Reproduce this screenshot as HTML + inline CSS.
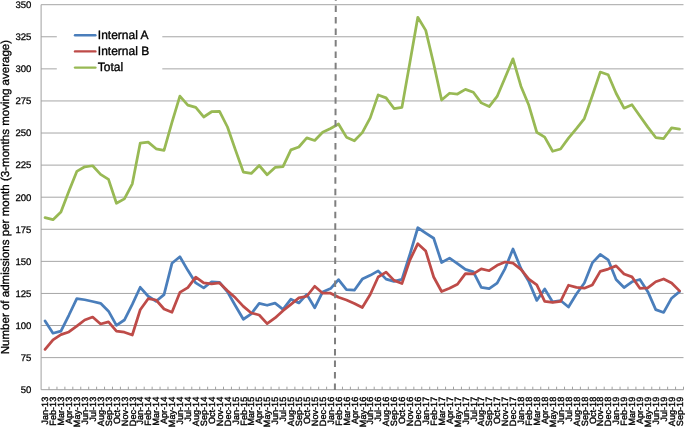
<!DOCTYPE html>
<html><head><meta charset="utf-8"><style>
html,body{margin:0;padding:0;background:#fff;}
svg{display:block;will-change:transform;}
text{font-family:"Liberation Sans",sans-serif;text-rendering:geometricPrecision;fill:#000;stroke:#000;stroke-width:0.25px;}
.lg{font-size:12.0px;stroke-width:0.35px;}
.yl{font-size:9.6px;}
.xl{font-size:9.1px;stroke-width:0.35px;}
.yt{font-size:11.55px;stroke-width:0.3px;}
</style></head><body>
<svg width="685" height="428" viewBox="0 0 685 428">
<rect width="685" height="428" fill="#fff"/>
<line x1="41.10" y1="357.62" x2="683.50" y2="357.62" stroke="#a6a6a6" stroke-width="1.0"/>
<line x1="41.10" y1="325.53" x2="683.50" y2="325.53" stroke="#a6a6a6" stroke-width="1.0"/>
<line x1="41.10" y1="293.45" x2="683.50" y2="293.45" stroke="#a6a6a6" stroke-width="1.0"/>
<line x1="41.10" y1="261.37" x2="683.50" y2="261.37" stroke="#a6a6a6" stroke-width="1.0"/>
<line x1="41.10" y1="229.28" x2="683.50" y2="229.28" stroke="#a6a6a6" stroke-width="1.0"/>
<line x1="41.10" y1="197.20" x2="683.50" y2="197.20" stroke="#a6a6a6" stroke-width="1.0"/>
<line x1="41.10" y1="165.12" x2="683.50" y2="165.12" stroke="#a6a6a6" stroke-width="1.0"/>
<line x1="41.10" y1="133.03" x2="683.50" y2="133.03" stroke="#a6a6a6" stroke-width="1.0"/>
<line x1="41.10" y1="100.95" x2="683.50" y2="100.95" stroke="#a6a6a6" stroke-width="1.0"/>
<line x1="41.10" y1="68.87" x2="683.50" y2="68.87" stroke="#a6a6a6" stroke-width="1.0"/>
<line x1="41.10" y1="36.78" x2="683.50" y2="36.78" stroke="#a6a6a6" stroke-width="1.0"/>
<line x1="41.10" y1="4.70" x2="683.50" y2="4.70" stroke="#a6a6a6" stroke-width="1.0"/>
<line x1="41.10" y1="4.70" x2="41.10" y2="389.70" stroke="#a0a0a0" stroke-width="1.0"/>
<line x1="41.10" y1="389.70" x2="683.50" y2="389.70" stroke="#a0a0a0" stroke-width="1.0"/>
<line x1="49.03" y1="389.70" x2="49.03" y2="386.70" stroke="#a0a0a0" stroke-width="1.0"/>
<line x1="56.96" y1="389.70" x2="56.96" y2="386.70" stroke="#a0a0a0" stroke-width="1.0"/>
<line x1="64.89" y1="389.70" x2="64.89" y2="386.70" stroke="#a0a0a0" stroke-width="1.0"/>
<line x1="72.82" y1="389.70" x2="72.82" y2="386.70" stroke="#a0a0a0" stroke-width="1.0"/>
<line x1="80.75" y1="389.70" x2="80.75" y2="386.70" stroke="#a0a0a0" stroke-width="1.0"/>
<line x1="88.69" y1="389.70" x2="88.69" y2="386.70" stroke="#a0a0a0" stroke-width="1.0"/>
<line x1="96.62" y1="389.70" x2="96.62" y2="386.70" stroke="#a0a0a0" stroke-width="1.0"/>
<line x1="104.55" y1="389.70" x2="104.55" y2="386.70" stroke="#a0a0a0" stroke-width="1.0"/>
<line x1="112.48" y1="389.70" x2="112.48" y2="386.70" stroke="#a0a0a0" stroke-width="1.0"/>
<line x1="120.41" y1="389.70" x2="120.41" y2="386.70" stroke="#a0a0a0" stroke-width="1.0"/>
<line x1="128.34" y1="389.70" x2="128.34" y2="386.70" stroke="#a0a0a0" stroke-width="1.0"/>
<line x1="136.27" y1="389.70" x2="136.27" y2="386.70" stroke="#a0a0a0" stroke-width="1.0"/>
<line x1="144.20" y1="389.70" x2="144.20" y2="386.70" stroke="#a0a0a0" stroke-width="1.0"/>
<line x1="152.13" y1="389.70" x2="152.13" y2="386.70" stroke="#a0a0a0" stroke-width="1.0"/>
<line x1="160.06" y1="389.70" x2="160.06" y2="386.70" stroke="#a0a0a0" stroke-width="1.0"/>
<line x1="167.99" y1="389.70" x2="167.99" y2="386.70" stroke="#a0a0a0" stroke-width="1.0"/>
<line x1="175.92" y1="389.70" x2="175.92" y2="386.70" stroke="#a0a0a0" stroke-width="1.0"/>
<line x1="183.86" y1="389.70" x2="183.86" y2="386.70" stroke="#a0a0a0" stroke-width="1.0"/>
<line x1="191.79" y1="389.70" x2="191.79" y2="386.70" stroke="#a0a0a0" stroke-width="1.0"/>
<line x1="199.72" y1="389.70" x2="199.72" y2="386.70" stroke="#a0a0a0" stroke-width="1.0"/>
<line x1="207.65" y1="389.70" x2="207.65" y2="386.70" stroke="#a0a0a0" stroke-width="1.0"/>
<line x1="215.58" y1="389.70" x2="215.58" y2="386.70" stroke="#a0a0a0" stroke-width="1.0"/>
<line x1="223.51" y1="389.70" x2="223.51" y2="386.70" stroke="#a0a0a0" stroke-width="1.0"/>
<line x1="231.44" y1="389.70" x2="231.44" y2="386.70" stroke="#a0a0a0" stroke-width="1.0"/>
<line x1="239.37" y1="389.70" x2="239.37" y2="386.70" stroke="#a0a0a0" stroke-width="1.0"/>
<line x1="247.30" y1="389.70" x2="247.30" y2="386.70" stroke="#a0a0a0" stroke-width="1.0"/>
<line x1="255.23" y1="389.70" x2="255.23" y2="386.70" stroke="#a0a0a0" stroke-width="1.0"/>
<line x1="263.16" y1="389.70" x2="263.16" y2="386.70" stroke="#a0a0a0" stroke-width="1.0"/>
<line x1="271.10" y1="389.70" x2="271.10" y2="386.70" stroke="#a0a0a0" stroke-width="1.0"/>
<line x1="279.03" y1="389.70" x2="279.03" y2="386.70" stroke="#a0a0a0" stroke-width="1.0"/>
<line x1="286.96" y1="389.70" x2="286.96" y2="386.70" stroke="#a0a0a0" stroke-width="1.0"/>
<line x1="294.89" y1="389.70" x2="294.89" y2="386.70" stroke="#a0a0a0" stroke-width="1.0"/>
<line x1="302.82" y1="389.70" x2="302.82" y2="386.70" stroke="#a0a0a0" stroke-width="1.0"/>
<line x1="310.75" y1="389.70" x2="310.75" y2="386.70" stroke="#a0a0a0" stroke-width="1.0"/>
<line x1="318.68" y1="389.70" x2="318.68" y2="386.70" stroke="#a0a0a0" stroke-width="1.0"/>
<line x1="326.61" y1="389.70" x2="326.61" y2="386.70" stroke="#a0a0a0" stroke-width="1.0"/>
<line x1="334.54" y1="389.70" x2="334.54" y2="386.70" stroke="#a0a0a0" stroke-width="1.0"/>
<line x1="342.47" y1="389.70" x2="342.47" y2="386.70" stroke="#a0a0a0" stroke-width="1.0"/>
<line x1="350.40" y1="389.70" x2="350.40" y2="386.70" stroke="#a0a0a0" stroke-width="1.0"/>
<line x1="358.33" y1="389.70" x2="358.33" y2="386.70" stroke="#a0a0a0" stroke-width="1.0"/>
<line x1="366.27" y1="389.70" x2="366.27" y2="386.70" stroke="#a0a0a0" stroke-width="1.0"/>
<line x1="374.20" y1="389.70" x2="374.20" y2="386.70" stroke="#a0a0a0" stroke-width="1.0"/>
<line x1="382.13" y1="389.70" x2="382.13" y2="386.70" stroke="#a0a0a0" stroke-width="1.0"/>
<line x1="390.06" y1="389.70" x2="390.06" y2="386.70" stroke="#a0a0a0" stroke-width="1.0"/>
<line x1="397.99" y1="389.70" x2="397.99" y2="386.70" stroke="#a0a0a0" stroke-width="1.0"/>
<line x1="405.92" y1="389.70" x2="405.92" y2="386.70" stroke="#a0a0a0" stroke-width="1.0"/>
<line x1="413.85" y1="389.70" x2="413.85" y2="386.70" stroke="#a0a0a0" stroke-width="1.0"/>
<line x1="421.78" y1="389.70" x2="421.78" y2="386.70" stroke="#a0a0a0" stroke-width="1.0"/>
<line x1="429.71" y1="389.70" x2="429.71" y2="386.70" stroke="#a0a0a0" stroke-width="1.0"/>
<line x1="437.64" y1="389.70" x2="437.64" y2="386.70" stroke="#a0a0a0" stroke-width="1.0"/>
<line x1="445.57" y1="389.70" x2="445.57" y2="386.70" stroke="#a0a0a0" stroke-width="1.0"/>
<line x1="453.50" y1="389.70" x2="453.50" y2="386.70" stroke="#a0a0a0" stroke-width="1.0"/>
<line x1="461.44" y1="389.70" x2="461.44" y2="386.70" stroke="#a0a0a0" stroke-width="1.0"/>
<line x1="469.37" y1="389.70" x2="469.37" y2="386.70" stroke="#a0a0a0" stroke-width="1.0"/>
<line x1="477.30" y1="389.70" x2="477.30" y2="386.70" stroke="#a0a0a0" stroke-width="1.0"/>
<line x1="485.23" y1="389.70" x2="485.23" y2="386.70" stroke="#a0a0a0" stroke-width="1.0"/>
<line x1="493.16" y1="389.70" x2="493.16" y2="386.70" stroke="#a0a0a0" stroke-width="1.0"/>
<line x1="501.09" y1="389.70" x2="501.09" y2="386.70" stroke="#a0a0a0" stroke-width="1.0"/>
<line x1="509.02" y1="389.70" x2="509.02" y2="386.70" stroke="#a0a0a0" stroke-width="1.0"/>
<line x1="516.95" y1="389.70" x2="516.95" y2="386.70" stroke="#a0a0a0" stroke-width="1.0"/>
<line x1="524.88" y1="389.70" x2="524.88" y2="386.70" stroke="#a0a0a0" stroke-width="1.0"/>
<line x1="532.81" y1="389.70" x2="532.81" y2="386.70" stroke="#a0a0a0" stroke-width="1.0"/>
<line x1="540.74" y1="389.70" x2="540.74" y2="386.70" stroke="#a0a0a0" stroke-width="1.0"/>
<line x1="548.68" y1="389.70" x2="548.68" y2="386.70" stroke="#a0a0a0" stroke-width="1.0"/>
<line x1="556.61" y1="389.70" x2="556.61" y2="386.70" stroke="#a0a0a0" stroke-width="1.0"/>
<line x1="564.54" y1="389.70" x2="564.54" y2="386.70" stroke="#a0a0a0" stroke-width="1.0"/>
<line x1="572.47" y1="389.70" x2="572.47" y2="386.70" stroke="#a0a0a0" stroke-width="1.0"/>
<line x1="580.40" y1="389.70" x2="580.40" y2="386.70" stroke="#a0a0a0" stroke-width="1.0"/>
<line x1="588.33" y1="389.70" x2="588.33" y2="386.70" stroke="#a0a0a0" stroke-width="1.0"/>
<line x1="596.26" y1="389.70" x2="596.26" y2="386.70" stroke="#a0a0a0" stroke-width="1.0"/>
<line x1="604.19" y1="389.70" x2="604.19" y2="386.70" stroke="#a0a0a0" stroke-width="1.0"/>
<line x1="612.12" y1="389.70" x2="612.12" y2="386.70" stroke="#a0a0a0" stroke-width="1.0"/>
<line x1="620.05" y1="389.70" x2="620.05" y2="386.70" stroke="#a0a0a0" stroke-width="1.0"/>
<line x1="627.98" y1="389.70" x2="627.98" y2="386.70" stroke="#a0a0a0" stroke-width="1.0"/>
<line x1="635.91" y1="389.70" x2="635.91" y2="386.70" stroke="#a0a0a0" stroke-width="1.0"/>
<line x1="643.85" y1="389.70" x2="643.85" y2="386.70" stroke="#a0a0a0" stroke-width="1.0"/>
<line x1="651.78" y1="389.70" x2="651.78" y2="386.70" stroke="#a0a0a0" stroke-width="1.0"/>
<line x1="659.71" y1="389.70" x2="659.71" y2="386.70" stroke="#a0a0a0" stroke-width="1.0"/>
<line x1="667.64" y1="389.70" x2="667.64" y2="386.70" stroke="#a0a0a0" stroke-width="1.0"/>
<line x1="675.57" y1="389.70" x2="675.57" y2="386.70" stroke="#a0a0a0" stroke-width="1.0"/>
<line x1="683.50" y1="389.70" x2="683.50" y2="386.70" stroke="#a0a0a0" stroke-width="1.0"/>
<polyline points="45.07,320.91 53.00,333.23 60.93,331.05 68.86,315.27 76.79,298.58 84.72,299.74 92.65,301.53 100.58,303.33 108.51,311.16 116.44,325.40 124.37,320.01 132.30,304.36 140.24,287.29 148.17,296.27 156.10,301.28 164.03,294.60 171.96,263.29 179.89,256.75 187.82,270.35 195.75,282.93 203.68,287.80 211.61,281.77 219.54,282.28 227.48,291.91 235.41,305.77 243.34,319.24 251.27,313.85 259.20,303.33 267.13,305.26 275.06,303.07 282.99,309.36 290.92,299.22 298.85,302.95 306.78,294.35 314.71,307.82 322.65,291.91 330.58,288.57 338.51,279.59 346.44,289.60 354.37,290.24 362.30,279.08 370.23,275.35 378.16,270.86 386.09,279.08 394.02,281.39 401.95,279.33 409.89,254.31 417.82,227.74 425.75,233.13 433.68,238.27 441.61,262.52 449.54,258.16 457.47,263.55 465.40,269.32 473.33,271.89 481.26,287.42 489.19,288.70 497.12,283.18 505.06,268.55 512.99,248.92 520.92,268.55 528.85,281.64 536.78,300.38 544.71,288.96 552.64,301.92 560.57,300.51 568.50,307.05 576.43,293.96 584.36,282.93 592.30,262.91 600.23,254.44 608.16,259.83 616.09,279.46 624.02,287.55 631.95,281.77 639.88,279.46 647.81,291.65 655.74,309.62 663.67,312.44 671.60,298.20 679.53,291.65" fill="none" stroke="#4A7EBB" stroke-width="2.75" stroke-linejoin="round" stroke-linecap="round"/>
<polyline points="45.07,349.40 53.00,339.78 60.93,334.64 68.86,331.95 76.79,326.17 84.72,320.01 92.65,317.06 100.58,323.99 108.51,321.81 116.44,331.05 124.37,332.21 132.30,335.03 140.24,309.75 148.17,298.71 156.10,299.99 164.03,308.98 171.96,312.31 179.89,292.42 187.82,287.55 195.75,277.15 203.68,282.93 211.61,283.82 219.54,282.93 227.48,290.75 235.41,297.81 243.34,306.41 251.27,312.96 259.20,315.01 267.13,323.61 275.06,317.96 282.99,310.65 290.92,304.36 298.85,297.94 306.78,296.27 314.71,286.26 322.65,293.19 330.58,293.19 338.51,297.30 346.44,299.99 354.37,303.46 362.30,307.57 370.23,294.48 378.16,277.02 386.09,272.15 394.02,280.36 401.95,283.57 409.89,260.08 417.82,243.66 425.75,251.10 433.68,277.02 441.61,291.52 449.54,288.19 457.47,284.21 465.40,273.56 473.33,273.94 481.26,268.94 489.19,270.73 497.12,265.34 505.06,262.01 512.99,263.16 520.92,269.32 528.85,279.20 536.78,284.85 544.71,301.28 552.64,302.43 560.57,301.28 568.50,285.24 576.43,287.42 584.36,288.19 592.30,284.98 600.23,271.38 608.16,269.07 616.09,265.86 624.02,274.07 631.95,276.89 639.88,288.32 647.81,287.93 655.74,281.77 663.67,278.95 671.60,282.93 679.53,290.88" fill="none" stroke="#BE4B48" stroke-width="2.75" stroke-linejoin="round" stroke-linecap="round"/>
<polyline points="45.07,217.60 53.00,219.66 60.93,211.96 68.86,191.17 76.79,171.40 84.72,166.78 92.65,165.76 100.58,174.36 108.51,179.36 116.44,203.23 124.37,198.87 132.30,183.85 140.24,143.04 148.17,142.14 156.10,148.82 164.03,150.36 171.96,122.38 179.89,96.07 187.82,105.06 195.75,107.37 203.68,116.99 211.61,111.73 219.54,111.34 227.48,127.00 235.41,149.84 243.34,172.05 251.27,173.46 259.20,165.50 267.13,174.74 275.06,167.43 282.99,166.66 290.92,149.84 298.85,147.02 306.78,137.91 314.71,140.48 322.65,132.26 330.58,128.54 338.51,124.05 346.44,137.14 354.37,140.73 362.30,132.65 370.23,117.89 378.16,94.92 386.09,97.87 394.02,108.52 401.95,107.37 409.89,62.45 417.82,17.28 425.75,30.37 433.68,63.73 441.61,100.05 449.54,93.25 457.47,94.02 465.40,89.40 473.33,92.22 481.26,102.87 489.19,106.60 497.12,96.46 505.06,77.72 512.99,58.86 520.92,86.19 528.85,105.31 536.78,132.26 544.71,137.14 552.64,151.26 560.57,148.95 568.50,138.17 576.43,128.67 584.36,118.53 592.30,95.82 600.23,72.07 608.16,74.77 616.09,93.25 624.02,108.14 631.95,104.67 639.88,115.96 647.81,127.13 655.74,137.52 663.67,138.55 671.60,127.90 679.53,129.05" fill="none" stroke="#98B954" stroke-width="2.75" stroke-linejoin="round" stroke-linecap="round"/>
<line x1="335.8" y1="-5.85" x2="334.9" y2="390.3" stroke="#7f7f7f" stroke-width="2" stroke-dasharray="6.5 4.95"/>
<rect x="56.8" y="24" width="105.5" height="52" fill="#fff"/>
<line x1="75" y1="35.2" x2="95.4" y2="35.2" stroke="#4A7EBB" stroke-width="2.4" stroke-linecap="round"/>
<text x="97.8" y="38.9" class="lg">Internal A</text>
<line x1="75" y1="51.4" x2="95.4" y2="51.4" stroke="#BE4B48" stroke-width="2.4" stroke-linecap="round"/>
<text x="97.8" y="55.1" class="lg">Internal B</text>
<line x1="75" y1="67.6" x2="95.4" y2="67.6" stroke="#98B954" stroke-width="2.4" stroke-linecap="round"/>
<text x="97.8" y="71.4" class="lg">Total</text>
<text x="31.4" y="393.05" class="yl" text-anchor="end">50</text>
<text x="31.4" y="360.97" class="yl" text-anchor="end">75</text>
<text x="31.4" y="328.88" class="yl" text-anchor="end">100</text>
<text x="31.4" y="296.80" class="yl" text-anchor="end">125</text>
<text x="31.4" y="264.72" class="yl" text-anchor="end">150</text>
<text x="31.4" y="232.63" class="yl" text-anchor="end">175</text>
<text x="31.4" y="200.55" class="yl" text-anchor="end">200</text>
<text x="31.4" y="168.47" class="yl" text-anchor="end">225</text>
<text x="31.4" y="136.38" class="yl" text-anchor="end">250</text>
<text x="31.4" y="104.30" class="yl" text-anchor="end">275</text>
<text x="31.4" y="72.22" class="yl" text-anchor="end">300</text>
<text x="31.4" y="40.13" class="yl" text-anchor="end">325</text>
<text x="31.4" y="8.05" class="yl" text-anchor="end">350</text>
<text transform="translate(48.27,396.8) rotate(-90)" class="xl" text-anchor="end">Jan-13</text>
<text transform="translate(56.20,396.8) rotate(-90)" class="xl" text-anchor="end">Feb-13</text>
<text transform="translate(64.13,396.8) rotate(-90)" class="xl" text-anchor="end">Mar-13</text>
<text transform="translate(72.06,396.8) rotate(-90)" class="xl" text-anchor="end">Apr-13</text>
<text transform="translate(79.99,396.8) rotate(-90)" class="xl" text-anchor="end">May-13</text>
<text transform="translate(87.92,396.8) rotate(-90)" class="xl" text-anchor="end">Jun-13</text>
<text transform="translate(95.85,396.8) rotate(-90)" class="xl" text-anchor="end">Jul-13</text>
<text transform="translate(103.78,396.8) rotate(-90)" class="xl" text-anchor="end">Aug-13</text>
<text transform="translate(111.71,396.8) rotate(-90)" class="xl" text-anchor="end">Sep-13</text>
<text transform="translate(119.64,396.8) rotate(-90)" class="xl" text-anchor="end">Oct-13</text>
<text transform="translate(127.57,396.8) rotate(-90)" class="xl" text-anchor="end">Nov-13</text>
<text transform="translate(135.50,396.8) rotate(-90)" class="xl" text-anchor="end">Dec-13</text>
<text transform="translate(143.44,396.8) rotate(-90)" class="xl" text-anchor="end">Jan-14</text>
<text transform="translate(151.37,396.8) rotate(-90)" class="xl" text-anchor="end">Feb-14</text>
<text transform="translate(159.30,396.8) rotate(-90)" class="xl" text-anchor="end">Mar-14</text>
<text transform="translate(167.23,396.8) rotate(-90)" class="xl" text-anchor="end">Apr-14</text>
<text transform="translate(175.16,396.8) rotate(-90)" class="xl" text-anchor="end">May-14</text>
<text transform="translate(183.09,396.8) rotate(-90)" class="xl" text-anchor="end">Jun-14</text>
<text transform="translate(191.02,396.8) rotate(-90)" class="xl" text-anchor="end">Jul-14</text>
<text transform="translate(198.95,396.8) rotate(-90)" class="xl" text-anchor="end">Aug-14</text>
<text transform="translate(206.88,396.8) rotate(-90)" class="xl" text-anchor="end">Sep-14</text>
<text transform="translate(214.81,396.8) rotate(-90)" class="xl" text-anchor="end">Oct-14</text>
<text transform="translate(222.74,396.8) rotate(-90)" class="xl" text-anchor="end">Nov-14</text>
<text transform="translate(230.68,396.8) rotate(-90)" class="xl" text-anchor="end">Dec-14</text>
<text transform="translate(238.61,396.8) rotate(-90)" class="xl" text-anchor="end">Jan-15</text>
<text transform="translate(246.54,396.8) rotate(-90)" class="xl" text-anchor="end">Feb-15</text>
<text transform="translate(254.47,396.8) rotate(-90)" class="xl" text-anchor="end">Mar-15</text>
<text transform="translate(262.40,396.8) rotate(-90)" class="xl" text-anchor="end">Apr-15</text>
<text transform="translate(270.33,396.8) rotate(-90)" class="xl" text-anchor="end">May-15</text>
<text transform="translate(278.26,396.8) rotate(-90)" class="xl" text-anchor="end">Jun-15</text>
<text transform="translate(286.19,396.8) rotate(-90)" class="xl" text-anchor="end">Jul-15</text>
<text transform="translate(294.12,396.8) rotate(-90)" class="xl" text-anchor="end">Aug-15</text>
<text transform="translate(302.05,396.8) rotate(-90)" class="xl" text-anchor="end">Sep-15</text>
<text transform="translate(309.98,396.8) rotate(-90)" class="xl" text-anchor="end">Oct-15</text>
<text transform="translate(317.91,396.8) rotate(-90)" class="xl" text-anchor="end">Nov-15</text>
<text transform="translate(325.85,396.8) rotate(-90)" class="xl" text-anchor="end">Dec-15</text>
<text transform="translate(333.78,396.8) rotate(-90)" class="xl" text-anchor="end">Jan-16</text>
<text transform="translate(341.71,396.8) rotate(-90)" class="xl" text-anchor="end">Feb-16</text>
<text transform="translate(349.64,396.8) rotate(-90)" class="xl" text-anchor="end">Mar-16</text>
<text transform="translate(357.57,396.8) rotate(-90)" class="xl" text-anchor="end">Apr-16</text>
<text transform="translate(365.50,396.8) rotate(-90)" class="xl" text-anchor="end">May-16</text>
<text transform="translate(373.43,396.8) rotate(-90)" class="xl" text-anchor="end">Jun-16</text>
<text transform="translate(381.36,396.8) rotate(-90)" class="xl" text-anchor="end">Jul-16</text>
<text transform="translate(389.29,396.8) rotate(-90)" class="xl" text-anchor="end">Aug-16</text>
<text transform="translate(397.22,396.8) rotate(-90)" class="xl" text-anchor="end">Sep-16</text>
<text transform="translate(405.15,396.8) rotate(-90)" class="xl" text-anchor="end">Oct-16</text>
<text transform="translate(413.09,396.8) rotate(-90)" class="xl" text-anchor="end">Nov-16</text>
<text transform="translate(421.02,396.8) rotate(-90)" class="xl" text-anchor="end">Dec-16</text>
<text transform="translate(428.95,396.8) rotate(-90)" class="xl" text-anchor="end">Jan-17</text>
<text transform="translate(436.88,396.8) rotate(-90)" class="xl" text-anchor="end">Feb-17</text>
<text transform="translate(444.81,396.8) rotate(-90)" class="xl" text-anchor="end">Mar-17</text>
<text transform="translate(452.74,396.8) rotate(-90)" class="xl" text-anchor="end">Apr-17</text>
<text transform="translate(460.67,396.8) rotate(-90)" class="xl" text-anchor="end">May-17</text>
<text transform="translate(468.60,396.8) rotate(-90)" class="xl" text-anchor="end">Jun-17</text>
<text transform="translate(476.53,396.8) rotate(-90)" class="xl" text-anchor="end">Jul-17</text>
<text transform="translate(484.46,396.8) rotate(-90)" class="xl" text-anchor="end">Aug-17</text>
<text transform="translate(492.39,396.8) rotate(-90)" class="xl" text-anchor="end">Sep-17</text>
<text transform="translate(500.32,396.8) rotate(-90)" class="xl" text-anchor="end">Oct-17</text>
<text transform="translate(508.26,396.8) rotate(-90)" class="xl" text-anchor="end">Nov-17</text>
<text transform="translate(516.19,396.8) rotate(-90)" class="xl" text-anchor="end">Dec-17</text>
<text transform="translate(524.12,396.8) rotate(-90)" class="xl" text-anchor="end">Jan-18</text>
<text transform="translate(532.05,396.8) rotate(-90)" class="xl" text-anchor="end">Feb-18</text>
<text transform="translate(539.98,396.8) rotate(-90)" class="xl" text-anchor="end">Mar-18</text>
<text transform="translate(547.91,396.8) rotate(-90)" class="xl" text-anchor="end">Apr-18</text>
<text transform="translate(555.84,396.8) rotate(-90)" class="xl" text-anchor="end">May-18</text>
<text transform="translate(563.77,396.8) rotate(-90)" class="xl" text-anchor="end">Jun-18</text>
<text transform="translate(571.70,396.8) rotate(-90)" class="xl" text-anchor="end">Jul-18</text>
<text transform="translate(579.63,396.8) rotate(-90)" class="xl" text-anchor="end">Aug-18</text>
<text transform="translate(587.56,396.8) rotate(-90)" class="xl" text-anchor="end">Sep-18</text>
<text transform="translate(595.50,396.8) rotate(-90)" class="xl" text-anchor="end">Oct-18</text>
<text transform="translate(603.43,396.8) rotate(-90)" class="xl" text-anchor="end">Nov-18</text>
<text transform="translate(611.36,396.8) rotate(-90)" class="xl" text-anchor="end">Dec-18</text>
<text transform="translate(619.29,396.8) rotate(-90)" class="xl" text-anchor="end">Jan-19</text>
<text transform="translate(627.22,396.8) rotate(-90)" class="xl" text-anchor="end">Feb-19</text>
<text transform="translate(635.15,396.8) rotate(-90)" class="xl" text-anchor="end">Mar-19</text>
<text transform="translate(643.08,396.8) rotate(-90)" class="xl" text-anchor="end">Apr-19</text>
<text transform="translate(651.01,396.8) rotate(-90)" class="xl" text-anchor="end">May-19</text>
<text transform="translate(658.94,396.8) rotate(-90)" class="xl" text-anchor="end">Jun-19</text>
<text transform="translate(666.87,396.8) rotate(-90)" class="xl" text-anchor="end">Jul-19</text>
<text transform="translate(674.80,396.8) rotate(-90)" class="xl" text-anchor="end">Aug-19</text>
<text transform="translate(682.73,396.8) rotate(-90)" class="xl" text-anchor="end">Sep-19</text>
<text transform="translate(8.9,197.1) rotate(-90)" class="yt" text-anchor="middle">Number of admissions per month (3-months moving average)</text>
</svg>
</body></html>
